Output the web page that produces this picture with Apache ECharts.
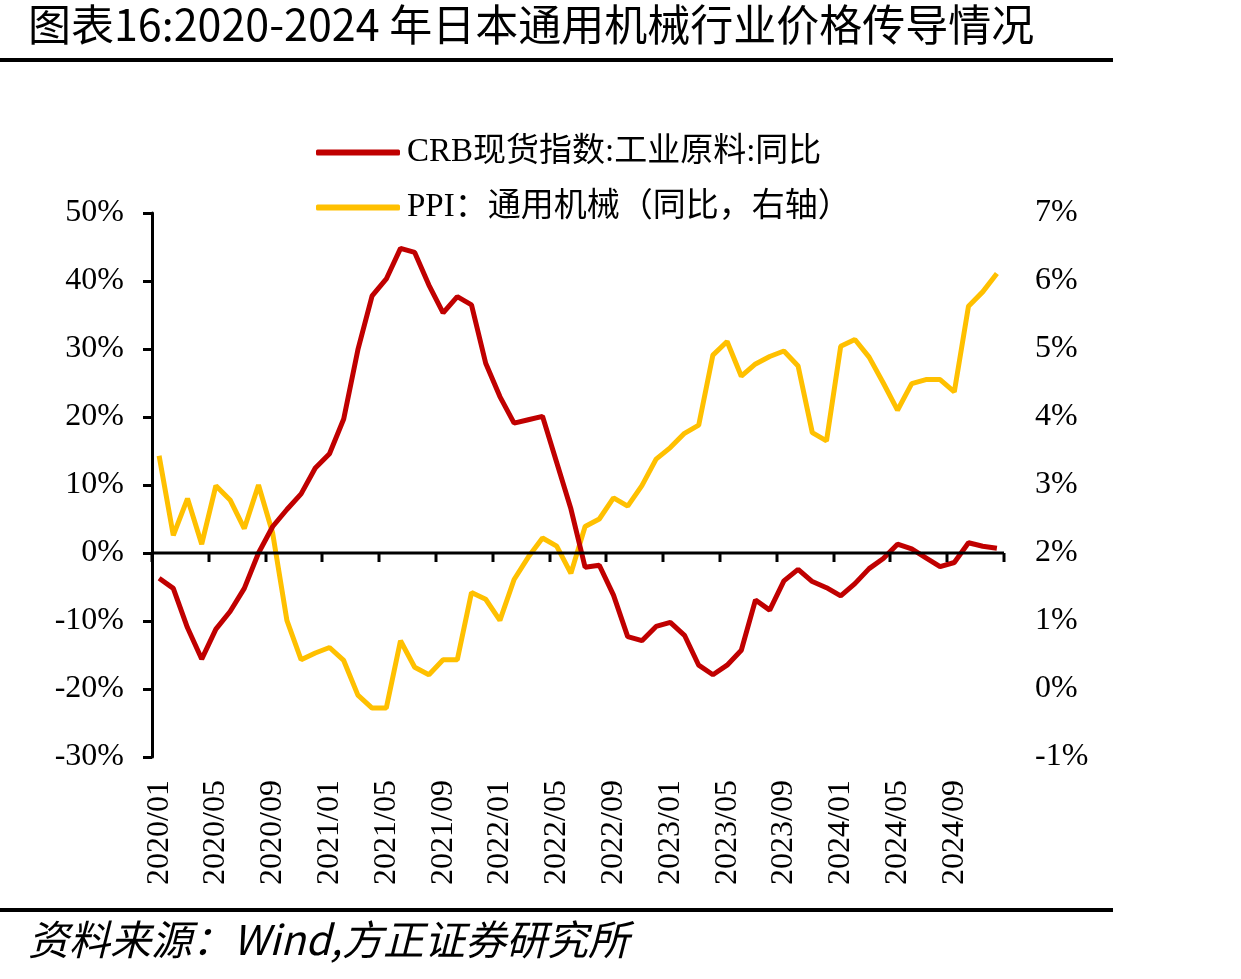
<!DOCTYPE html>
<html>
<head>
<meta charset="utf-8">
<script src="https://cdn.jsdelivr.net/npm/echarts@6/dist/echarts.min.js"></script>
<style>
  html, body { margin: 0; padding: 0; background: #fff; }
  #main { width: 1241px; height: 979px; }
</style>
</head>
<body>
<div id="main"></div>
<script>
// 月份 2020/01 - 2024/12
var months = [];
for (var y = 2020; y <= 2024; y++) {
  for (var m = 1; m <= 12; m++) {
    months.push(y + '/' + (m < 10 ? '0' + m : m));
  }
}

// CRB现货指数:工业原料:同比 (%)
var crb = [
  -3.7, -5.2, -11.0, -15.6, -11.2, -8.6, -5.2, 0.0, 3.9, 6.4, 8.7, 12.5,
  14.6, 19.7, 29.9, 37.8, 40.3, 44.8, 44.2, 39.4, 35.3, 37.7, 36.5, 27.9,
  23.0, 19.1, 19.6, 20.1, 13.3, 6.5, -2.1, -1.8, -6.2, -12.3, -12.9, -10.8,
  -10.2, -12.1, -16.5, -17.9, -16.5, -14.3, -6.9, -8.4, -4.1, -2.4, -4.2, -5.1,
  -6.3, -4.5, -2.3, -0.8, 1.3, 0.6, -0.7, -2.0, -1.4, 1.5, 1.0, 0.7
];

// PPI：通用机械 同比 (%) 右轴
var ppi = [
  3.43, 2.26, 2.80, 2.13, 2.99, 2.78, 2.36, 3.00, 2.29, 1.01, 0.43, 0.53,
  0.61, 0.42, -0.09, -0.28, -0.28, 0.71, 0.32, 0.21, 0.43, 0.43, 1.42, 1.32,
  1.01, 1.61, 1.94, 2.22, 2.10, 1.70, 2.39, 2.50, 2.81, 2.69, 2.99, 3.38,
  3.55, 3.76, 3.88, 4.91, 5.11, 4.60, 4.78, 4.89, 4.97, 4.75, 3.77, 3.65,
  5.04, 5.14, 4.88, 4.50, 4.10, 4.49, 4.55, 4.55, 4.37, 5.63, 5.84, 6.11
];

var serif = '"Liberation Serif", "Times New Roman", "Noto Sans CJK SC", serif';
var cjk = '"Noto Sans CJK SC", sans-serif';

var myChart = echarts.init(document.getElementById('main'));
myChart.setOption({
  animation: false,
  grid: { left: 152, top: 213, width: 852, height: 544, containLabel: false },
  legend: {
    orient: 'vertical',
    left: 311,
    top: 131,
    itemGap: 22,
    itemWidth: 84,
    itemHeight: 6,
    icon: 'roundRect',
    textStyle: { fontFamily: serif, fontSize: 33, color: '#000', padding: [0, 0, 0, 2] },
    data: ['CRB现货指数:工业原料:同比', 'PPI：通用机械（同比，右轴）']
  },
  xAxis: {
    type: 'category',
    data: months,
    position: 'bottom',
    axisLine: { show: false, onZero: false },
    axisTick: { show: false },
    axisLabel: { interval: 3, rotate: 90, margin: 23, fontSize: 32, fontFamily: serif, color: '#000' }
  },
  yAxis: [{
    type: 'value',
    min: -30, max: 50, interval: 10,
    axisLine: { show: true, lineStyle: { color: '#000', width: 3 } },
    axisTick: { show: true, length: 9, lineStyle: { color: '#000', width: 3 } },
    splitLine: { show: false },
    axisLabel: { formatter: '{value}%', fontSize: 32, fontFamily: serif, color: '#000', margin: 28 }
  }, {
    type: 'value',
    min: -1, max: 7, interval: 1,
    axisLine: { show: false },
    axisTick: { show: false },
    splitLine: { show: false },
    axisLabel: { formatter: '{value}%', fontSize: 32, fontFamily: serif, color: '#000', margin: 31 }
  }],
  series: [{
    name: 'CRB现货指数:工业原料:同比',
    type: 'line',
    data: crb,
    yAxisIndex: 0,
    showSymbol: false,
    color: '#C00000',
    lineStyle: { width: 5, color: '#C00000' },
    z: 3
  }, {
    name: 'PPI：通用机械（同比，右轴）',
    type: 'line',
    data: ppi,
    yAxisIndex: 1,
    showSymbol: false,
    color: '#FFC000',
    lineStyle: { width: 5, color: '#FFC000' },
    z: 2
  }]
});

// 0 值处的横轴与刻度（每 4 个月一个，落在类目边界上），位置取自坐标轴换算
var p0 = myChart.convertToPixel({ gridIndex: 0 }, [0, 0]);
var p1 = myChart.convertToPixel({ gridIndex: 0 }, [1, 0]);
var band = p1[0] - p0[0];
var xStart = p0[0] - band / 2;
var xEnd = xStart + band * months.length;
var zeroY = Math.round(p0[1]);

var graphics = [
  { type: 'text', left: 28, top: 3, style: { text: '图表16:2020-2024 年日本通用机械行业价格传导情况', font: '43px ' + cjk, fill: '#000' } },
  { type: 'rect', shape: { x: 0, y: 58, width: 1113, height: 4 }, style: { fill: '#000' } },
  { type: 'rect', shape: { x: 0, y: 908, width: 1113, height: 4 }, style: { fill: '#000' } },
  { type: 'text', left: 28, top: 919, style: { text: '资料来源：Wind,方正证券研究所', font: 'italic 41px ' + cjk, fill: '#000' } },
  { type: 'rect', z: 10, shape: { x: xStart, y: zeroY - 1.5, width: xEnd - xStart, height: 3 }, style: { fill: '#000' } }
];
for (var k = 0; k <= months.length; k += 4) {
  var tx = Math.round(xStart + band * k);
  graphics.push({ type: 'rect', z: 10, shape: { x: tx - 1.5, y: zeroY, width: 3, height: 9 }, style: { fill: '#000' } });
}
myChart.setOption({ graphic: graphics });
</script>
</body>
</html>
